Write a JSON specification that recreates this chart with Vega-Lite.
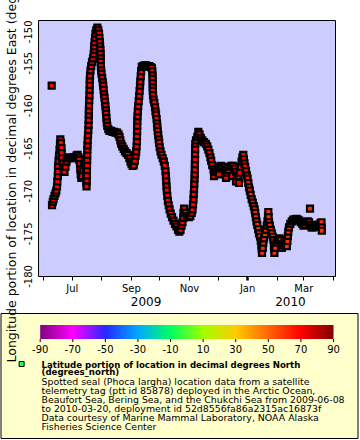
{
  "$schema": "https://vega.github.io/schema/vega-lite/v6.json",
  "autosize": {"type": "none"},
  "padding": {"left": 0.5, "top": 20, "right": 359.5, "bottom": 420},
  "background": "white",
  "spacing": -378,
  "config": {
    "font": "DejaVu Sans",
    "axis": {"labelColor": "black", "tickColor": "black", "labelFont": "DejaVu Sans", "titleFont": "DejaVu Sans", "titleColor": "black", "grid": false, "labelFlush": false, "labelOverlap": false, "labelBound": false}
  },
  "vconcat": [
    {
      "bounds": "flush",
      "spacing": 36.5,
      "hconcat": [
        {
          "width": 1, "height": 1,
          "view": {"stroke": null, "fill": null},
          "data": {"values": [{}]},
          "mark": {"type": "point", "opacity": 0}
        },
        {
          "width": 297,
          "height": 256,
          "view": {"fill": "#ccccff", "stroke": "black", "strokeWidth": 1},
          "resolve": {"scale": {"x": "independent"}, "axis": {"x": "independent"}},
          "layer": [
            {
              "data": {"values": [
{"time":"2009-06-10T00:00","lon":-157.7,"lat":70},
{"time":"2009-06-10T08:00","lon":-171.7,"lat":70},
{"time":"2009-06-11T04:00","lon":-171.3,"lat":70},
{"time":"2009-06-11T22:00","lon":-171.0,"lat":70},
{"time":"2009-06-12T23:00","lon":-170.6,"lat":70},
{"time":"2009-06-14T00:00","lon":-170.3,"lat":70},
{"time":"2009-06-14T20:00","lon":-170.0,"lat":70},
{"time":"2009-06-15T14:00","lon":-169.5,"lat":70},
{"time":"2009-06-15T21:00","lon":-168.9,"lat":70},
{"time":"2009-06-16T10:00","lon":-168.3,"lat":70},
{"time":"2009-06-16T15:00","lon":-167.7,"lat":70},
{"time":"2009-06-16T16:00","lon":-167.1,"lat":70},
{"time":"2009-06-17T04:00","lon":-166.5,"lat":70},
{"time":"2009-06-17T16:00","lon":-165.9,"lat":70},
{"time":"2009-06-18T05:00","lon":-165.2,"lat":70},
{"time":"2009-06-18T17:00","lon":-164.5,"lat":70},
{"time":"2009-06-19T01:00","lon":-164.0,"lat":70},
{"time":"2009-06-19T18:00","lon":-164.4,"lat":70},
{"time":"2009-06-20T07:00","lon":-165.0,"lat":70},
{"time":"2009-06-20T12:00","lon":-165.6,"lat":70},
{"time":"2009-06-20T20:00","lon":-166.2,"lat":70},
{"time":"2009-06-21T13:00","lon":-166.8,"lat":70},
{"time":"2009-06-22T10:00","lon":-167.3,"lat":70},
{"time":"2009-06-23T11:00","lon":-167.8,"lat":70},
{"time":"2009-06-24T12:00","lon":-167.2,"lat":70},
{"time":"2009-06-25T13:00","lon":-166.6,"lat":70},
{"time":"2009-06-26T14:00","lon":-166.2,"lat":70},
{"time":"2009-06-28T04:00","lon":-166.1,"lat":70},
{"time":"2009-06-29T18:00","lon":-166.2,"lat":70},
{"time":"2009-07-01T07:00","lon":-166.2,"lat":70},
{"time":"2009-07-02T21:00","lon":-166.1,"lat":70},
{"time":"2009-07-04T11:00","lon":-166.1,"lat":70},
{"time":"2009-07-06T01:00","lon":-165.9,"lat":70},
{"time":"2009-07-07T02:00","lon":-165.8,"lat":70},
{"time":"2009-07-08T03:00","lon":-166.1,"lat":70},
{"time":"2009-07-08T23:00","lon":-166.4,"lat":70},
{"time":"2009-07-09T17:00","lon":-166.9,"lat":70},
{"time":"2009-07-10T00:00","lon":-167.5,"lat":70},
{"time":"2009-07-10T11:00","lon":-168.1,"lat":70},
{"time":"2009-07-11T02:00","lon":-168.5,"lat":70},
{"time":"2009-07-11T19:00","lon":-168.3,"lat":70},
{"time":"2009-07-12T21:00","lon":-167.6,"lat":70},
{"time":"2009-07-13T22:00","lon":-166.9,"lat":70},
{"time":"2009-07-14T23:00","lon":-166.4,"lat":70},
{"time":"2009-07-15T17:00","lon":-167.0,"lat":70},
{"time":"2009-07-16T00:00","lon":-167.7,"lat":70},
{"time":"2009-07-16T05:00","lon":-168.4,"lat":70},
{"time":"2009-07-16T10:00","lon":-169.0,"lat":70},
{"time":"2009-07-16T13:00","lon":-169.5,"lat":70},
{"time":"2009-07-16T18:00","lon":-168.8,"lat":70},
{"time":"2009-07-16T20:00","lon":-168.2,"lat":70},
{"time":"2009-07-16T23:00","lon":-167.6,"lat":70},
{"time":"2009-07-17T01:00","lon":-167.0,"lat":70},
{"time":"2009-07-17T04:00","lon":-166.4,"lat":70},
{"time":"2009-07-17T06:00","lon":-165.8,"lat":70},
{"time":"2009-07-17T09:00","lon":-165.2,"lat":70},
{"time":"2009-07-17T14:00","lon":-164.7,"lat":70},
{"time":"2009-07-17T19:00","lon":-164.1,"lat":70},
{"time":"2009-07-18T02:00","lon":-163.5,"lat":70},
{"time":"2009-07-18T10:00","lon":-162.9,"lat":70},
{"time":"2009-07-18T15:00","lon":-162.3,"lat":70},
{"time":"2009-07-18T20:00","lon":-161.7,"lat":70},
{"time":"2009-07-18T23:00","lon":-161.1,"lat":70},
{"time":"2009-07-19T01:00","lon":-160.6,"lat":70},
{"time":"2009-07-19T04:00","lon":-160.0,"lat":70},
{"time":"2009-07-19T09:00","lon":-159.4,"lat":70},
{"time":"2009-07-19T14:00","lon":-158.8,"lat":70},
{"time":"2009-07-19T19:00","lon":-158.2,"lat":70},
{"time":"2009-07-19T21:00","lon":-157.6,"lat":70},
{"time":"2009-07-19T23:00","lon":-157.0,"lat":70},
{"time":"2009-07-20T05:00","lon":-156.5,"lat":70},
{"time":"2009-07-20T17:00","lon":-155.9,"lat":70},
{"time":"2009-07-21T11:00","lon":-155.4,"lat":70},
{"time":"2009-07-22T07:00","lon":-154.9,"lat":70},
{"time":"2009-07-23T08:00","lon":-154.5,"lat":70},
{"time":"2009-07-24T02:00","lon":-154.0,"lat":70},
{"time":"2009-07-24T10:00","lon":-153.5,"lat":70},
{"time":"2009-07-24T15:00","lon":-153.1,"lat":70},
{"time":"2009-07-25T01:00","lon":-152.6,"lat":70},
{"time":"2009-07-25T11:00","lon":-152.1,"lat":70},
{"time":"2009-07-25T23:00","lon":-151.6,"lat":70},
{"time":"2009-07-26T19:00","lon":-151.2,"lat":70},
{"time":"2009-07-27T21:00","lon":-150.9,"lat":70},
{"time":"2009-07-28T22:00","lon":-151.2,"lat":70},
{"time":"2009-07-29T15:00","lon":-151.6,"lat":70},
{"time":"2009-07-30T01:00","lon":-152.1,"lat":70},
{"time":"2009-07-30T12:00","lon":-152.6,"lat":70},
{"time":"2009-07-30T19:00","lon":-153.1,"lat":70},
{"time":"2009-07-31T03:00","lon":-153.5,"lat":70},
{"time":"2009-07-31T08:00","lon":-154.0,"lat":70},
{"time":"2009-07-31T10:00","lon":-154.5,"lat":70},
{"time":"2009-07-31T11:00","lon":-154.9,"lat":70},
{"time":"2009-07-31T13:00","lon":-155.4,"lat":70},
{"time":"2009-07-31T20:00","lon":-155.9,"lat":70},
{"time":"2009-08-01T06:00","lon":-156.3,"lat":70},
{"time":"2009-08-02T00:00","lon":-156.8,"lat":70},
{"time":"2009-08-02T15:00","lon":-157.3,"lat":70},
{"time":"2009-08-03T01:00","lon":-157.7,"lat":70},
{"time":"2009-08-03T11:00","lon":-158.2,"lat":70},
{"time":"2009-08-03T21:00","lon":-158.7,"lat":70},
{"time":"2009-08-04T10:00","lon":-159.1,"lat":70},
{"time":"2009-08-04T22:00","lon":-159.6,"lat":70},
{"time":"2009-08-05T09:00","lon":-160.1,"lat":70},
{"time":"2009-08-05T19:00","lon":-160.6,"lat":70},
{"time":"2009-08-06T02:00","lon":-161.0,"lat":70},
{"time":"2009-08-06T10:00","lon":-161.5,"lat":70},
{"time":"2009-08-06T20:00","lon":-162.0,"lat":70},
{"time":"2009-08-07T08:00","lon":-162.4,"lat":70},
{"time":"2009-08-08T10:00","lon":-162.8,"lat":70},
{"time":"2009-08-09T16:00","lon":-163.0,"lat":70},
{"time":"2009-08-11T06:00","lon":-163.0,"lat":70},
{"time":"2009-08-12T19:00","lon":-163.1,"lat":70},
{"time":"2009-08-14T09:00","lon":-163.1,"lat":70},
{"time":"2009-08-15T23:00","lon":-163.2,"lat":70},
{"time":"2009-08-17T13:00","lon":-163.2,"lat":70},
{"time":"2009-08-19T02:00","lon":-163.4,"lat":70},
{"time":"2009-08-20T04:00","lon":-163.7,"lat":70},
{"time":"2009-08-21T00:00","lon":-164.1,"lat":70},
{"time":"2009-08-21T22:00","lon":-164.5,"lat":70},
{"time":"2009-08-23T02:00","lon":-164.8,"lat":70},
{"time":"2009-08-24T13:00","lon":-165.1,"lat":70},
{"time":"2009-08-25T22:00","lon":-165.4,"lat":70},
{"time":"2009-08-27T12:00","lon":-165.6,"lat":70},
{"time":"2009-08-29T02:00","lon":-165.8,"lat":70},
{"time":"2009-08-30T11:00","lon":-166.2,"lat":70},
{"time":"2009-08-31T17:00","lon":-166.6,"lat":70},
{"time":"2009-09-01T18:00","lon":-166.9,"lat":70},
{"time":"2009-09-03T00:00","lon":-167.1,"lat":70},
{"time":"2009-09-04T04:00","lon":-167.0,"lat":70},
{"time":"2009-09-05T05:00","lon":-166.5,"lat":70},
{"time":"2009-09-06T01:00","lon":-165.9,"lat":70},
{"time":"2009-09-06T16:00","lon":-165.4,"lat":70},
{"time":"2009-09-07T02:00","lon":-164.8,"lat":70},
{"time":"2009-09-07T10:00","lon":-164.2,"lat":70},
{"time":"2009-09-07T12:00","lon":-163.6,"lat":70},
{"time":"2009-09-07T15:00","lon":-163.0,"lat":70},
{"time":"2009-09-07T17:00","lon":-162.4,"lat":70},
{"time":"2009-09-07T20:00","lon":-161.8,"lat":70},
{"time":"2009-09-08T01:00","lon":-161.3,"lat":70},
{"time":"2009-09-08T08:00","lon":-160.7,"lat":70},
{"time":"2009-09-08T18:00","lon":-160.1,"lat":70},
{"time":"2009-09-09T07:00","lon":-159.5,"lat":70},
{"time":"2009-09-09T20:00","lon":-158.9,"lat":70},
{"time":"2009-09-10T06:00","lon":-158.3,"lat":70},
{"time":"2009-09-10T16:00","lon":-157.7,"lat":70},
{"time":"2009-09-10T23:00","lon":-157.2,"lat":70},
{"time":"2009-09-11T10:00","lon":-156.6,"lat":70},
{"time":"2009-09-11T20:00","lon":-156.0,"lat":70},
{"time":"2009-09-12T13:00","lon":-155.5,"lat":70},
{"time":"2009-09-13T19:00","lon":-155.4,"lat":70},
{"time":"2009-09-15T09:00","lon":-155.3,"lat":70},
{"time":"2009-09-16T23:00","lon":-155.3,"lat":70},
{"time":"2009-09-18T13:00","lon":-155.4,"lat":70},
{"time":"2009-09-20T02:00","lon":-155.4,"lat":70},
{"time":"2009-09-21T16:00","lon":-155.5,"lat":70},
{"time":"2009-09-23T01:00","lon":-155.6,"lat":70},
{"time":"2009-09-23T14:00","lon":-156.0,"lat":70},
{"time":"2009-09-23T19:00","lon":-156.5,"lat":70},
{"time":"2009-09-23T21:00","lon":-156.9,"lat":70},
{"time":"2009-09-23T23:00","lon":-157.4,"lat":70},
{"time":"2009-09-24T00:30","lon":-157.9,"lat":70},
{"time":"2009-09-24T02:00","lon":-158.3,"lat":70},
{"time":"2009-09-24T07:00","lon":-158.8,"lat":70},
{"time":"2009-09-24T20:00","lon":-159.3,"lat":70},
{"time":"2009-09-25T16:00","lon":-159.7,"lat":70},
{"time":"2009-09-26T10:00","lon":-160.2,"lat":70},
{"time":"2009-09-26T22:00","lon":-160.7,"lat":70},
{"time":"2009-09-27T11:00","lon":-161.1,"lat":70},
{"time":"2009-09-28T02:00","lon":-161.6,"lat":70},
{"time":"2009-09-28T12:00","lon":-162.1,"lat":70},
{"time":"2009-09-28T19:00","lon":-162.5,"lat":70},
{"time":"2009-09-29T06:00","lon":-163.0,"lat":70},
{"time":"2009-09-29T18:00","lon":-163.5,"lat":70},
{"time":"2009-09-30T07:00","lon":-164.0,"lat":70},
{"time":"2009-09-30T19:00","lon":-164.4,"lat":70},
{"time":"2009-10-01T08:00","lon":-164.9,"lat":70},
{"time":"2009-10-02T04:00","lon":-165.4,"lat":70},
{"time":"2009-10-03T05:00","lon":-165.8,"lat":70},
{"time":"2009-10-04T12:00","lon":-166.2,"lat":70},
{"time":"2009-10-05T15:00","lon":-166.6,"lat":70},
{"time":"2009-10-06T16:00","lon":-167.1,"lat":70},
{"time":"2009-10-07T10:00","lon":-167.7,"lat":70},
{"time":"2009-10-07T20:00","lon":-168.3,"lat":70},
{"time":"2009-10-08T04:00","lon":-168.9,"lat":70},
{"time":"2009-10-08T11:00","lon":-169.5,"lat":70},
{"time":"2009-10-08T19:00","lon":-170.0,"lat":70},
{"time":"2009-10-09T07:00","lon":-170.6,"lat":70},
{"time":"2009-10-09T22:00","lon":-171.2,"lat":70},
{"time":"2009-10-10T18:00","lon":-171.7,"lat":70},
{"time":"2009-10-11T17:00","lon":-172.2,"lat":70},
{"time":"2009-10-12T21:00","lon":-172.7,"lat":70},
{"time":"2009-10-14T06:00","lon":-173.1,"lat":70},
{"time":"2009-10-15T19:00","lon":-173.5,"lat":70},
{"time":"2009-10-17T09:00","lon":-173.9,"lat":70},
{"time":"2009-10-18T23:00","lon":-174.2,"lat":70},
{"time":"2009-10-20T13:00","lon":-174.6,"lat":70},
{"time":"2009-10-21T22:00","lon":-174.8,"lat":70},
{"time":"2009-10-23T04:00","lon":-174.6,"lat":70},
{"time":"2009-10-24T05:00","lon":-174.1,"lat":70},
{"time":"2009-10-25T06:00","lon":-173.7,"lat":70},
{"time":"2009-10-26T02:00","lon":-173.2,"lat":70},
{"time":"2009-10-26T07:00","lon":-172.6,"lat":70},
{"time":"2009-10-26T23:00","lon":-172.1,"lat":70},
{"time":"2009-10-28T12:00","lon":-172.6,"lat":70},
{"time":"2009-10-30T02:00","lon":-173.0,"lat":70},
{"time":"2009-10-31T21:00","lon":-173.1,"lat":70},
{"time":"2009-11-02T10:00","lon":-173.0,"lat":70},
{"time":"2009-11-03T23:00","lon":-172.6,"lat":70},
{"time":"2009-11-04T19:00","lon":-172.2,"lat":70},
{"time":"2009-11-05T07:00","lon":-171.6,"lat":70},
{"time":"2009-11-05T18:00","lon":-171.0,"lat":70},
{"time":"2009-11-06T01:00","lon":-170.4,"lat":70},
{"time":"2009-11-06T09:00","lon":-169.8,"lat":70},
{"time":"2009-11-06T14:00","lon":-169.2,"lat":70},
{"time":"2009-11-06T21:00","lon":-168.6,"lat":70},
{"time":"2009-11-07T01:00","lon":-168.1,"lat":70},
{"time":"2009-11-07T04:00","lon":-167.5,"lat":70},
{"time":"2009-11-07T06:00","lon":-166.9,"lat":70},
{"time":"2009-11-07T09:00","lon":-166.3,"lat":70},
{"time":"2009-11-07T10:00","lon":-165.7,"lat":70},
{"time":"2009-11-07T11:00","lon":-165.1,"lat":70},
{"time":"2009-11-07T16:00","lon":-164.5,"lat":70},
{"time":"2009-11-08T10:00","lon":-164.1,"lat":70},
{"time":"2009-11-09T19:00","lon":-163.7,"lat":70},
{"time":"2009-11-10T20:00","lon":-163.1,"lat":70},
{"time":"2009-11-12T02:00","lon":-163.4,"lat":70},
{"time":"2009-11-13T11:00","lon":-163.8,"lat":70},
{"time":"2009-11-15T01:00","lon":-164.1,"lat":70},
{"time":"2009-11-16T19:00","lon":-164.3,"lat":70},
{"time":"2009-11-18T17:00","lon":-164.5,"lat":70},
{"time":"2009-11-20T04:00","lon":-164.8,"lat":70},
{"time":"2009-11-21T08:00","lon":-165.2,"lat":70},
{"time":"2009-11-22T12:00","lon":-165.6,"lat":70},
{"time":"2009-11-23T13:00","lon":-166.1,"lat":70},
{"time":"2009-11-24T09:00","lon":-166.5,"lat":70},
{"time":"2009-11-25T10:00","lon":-167.0,"lat":70},
{"time":"2009-11-26T19:00","lon":-167.5,"lat":70},
{"time":"2009-11-27T07:00","lon":-168.3,"lat":70},
{"time":"2009-11-28T08:00","lon":-167.8,"lat":70},
{"time":"2009-11-29T22:00","lon":-167.7,"lat":70},
{"time":"2009-12-01T12:00","lon":-167.4,"lat":70},
{"time":"2009-12-02T13:00","lon":-168.1,"lat":70},
{"time":"2009-12-03T02:00","lon":-167.2,"lat":70},
{"time":"2009-12-04T16:00","lon":-167.1,"lat":70},
{"time":"2009-12-06T05:00","lon":-167.2,"lat":70},
{"time":"2009-12-07T19:00","lon":-167.3,"lat":70},
{"time":"2009-12-09T09:00","lon":-167.6,"lat":70},
{"time":"2009-12-09T22:00","lon":-168.5,"lat":70},
{"time":"2009-12-10T23:00","lon":-167.9,"lat":70},
{"time":"2009-12-12T12:00","lon":-167.6,"lat":70},
{"time":"2009-12-14T02:00","lon":-167.2,"lat":70},
{"time":"2009-12-15T16:00","lon":-167.1,"lat":70},
{"time":"2009-12-16T05:00","lon":-168.3,"lat":70},
{"time":"2009-12-17T06:00","lon":-167.1,"lat":70},
{"time":"2009-12-18T19:00","lon":-167.4,"lat":70},
{"time":"2009-12-20T09:00","lon":-167.8,"lat":70},
{"time":"2009-12-20T10:00","lon":-168.9,"lat":70},
{"time":"2009-12-21T18:00","lon":-168.2,"lat":70},
{"time":"2009-12-23T00:00","lon":-168.3,"lat":70},
{"time":"2009-12-23T12:00","lon":-169.1,"lat":70},
{"time":"2009-12-24T09:00","lon":-167.9,"lat":70},
{"time":"2009-12-25T10:00","lon":-167.2,"lat":70},
{"time":"2009-12-26T06:00","lon":-166.6,"lat":70},
{"time":"2009-12-27T02:00","lon":-166.1,"lat":70},
{"time":"2009-12-28T01:00","lon":-165.8,"lat":70},
{"time":"2009-12-28T16:00","lon":-166.3,"lat":70},
{"time":"2009-12-29T07:00","lon":-166.8,"lat":70},
{"time":"2009-12-30T01:00","lon":-167.2,"lat":70},
{"time":"2009-12-30T21:00","lon":-167.7,"lat":70},
{"time":"2009-12-31T17:00","lon":-168.2,"lat":70},
{"time":"2010-01-01T13:00","lon":-168.6,"lat":67},
{"time":"2010-01-02T07:00","lon":-169.1,"lat":67},
{"time":"2010-01-03T01:00","lon":-169.6,"lat":66},
{"time":"2010-01-03T21:00","lon":-170.0,"lat":66},
{"time":"2010-01-04T19:00","lon":-170.5,"lat":65},
{"time":"2010-01-05T21:00","lon":-171.0,"lat":65},
{"time":"2010-01-07T00:00","lon":-171.4,"lat":64},
{"time":"2010-01-08T01:00","lon":-171.8,"lat":64},
{"time":"2010-01-08T22:00","lon":-172.2,"lat":63},
{"time":"2010-01-09T13:00","lon":-172.6,"lat":63},
{"time":"2010-01-10T04:00","lon":-173.1,"lat":62},
{"time":"2010-01-10T21:00","lon":-173.6,"lat":62},
{"time":"2010-01-11T17:00","lon":-174.0,"lat":61},
{"time":"2010-01-12T16:00","lon":-174.5,"lat":61},
{"time":"2010-01-13T12:00","lon":-175.0,"lat":61},
{"time":"2010-01-14T14:00","lon":-175.4,"lat":61},
{"time":"2010-01-15T10:00","lon":-175.9,"lat":61},
{"time":"2010-01-16T01:00","lon":-176.4,"lat":61},
{"time":"2010-01-16T08:00","lon":-176.8,"lat":61},
{"time":"2010-01-16T16:00","lon":-177.3,"lat":61},
{"time":"2010-01-17T12:00","lon":-176.7,"lat":61},
{"time":"2010-01-18T01:00","lon":-176.1,"lat":61},
{"time":"2010-01-18T18:00","lon":-175.6,"lat":61},
{"time":"2010-01-19T20:00","lon":-175.1,"lat":61},
{"time":"2010-01-20T21:00","lon":-174.6,"lat":61},
{"time":"2010-01-21T17:00","lon":-174.1,"lat":61},
{"time":"2010-01-22T11:00","lon":-173.6,"lat":61},
{"time":"2010-01-22T23:00","lon":-173.0,"lat":61},
{"time":"2010-01-23T07:00","lon":-172.5,"lat":61},
{"time":"2010-01-23T14:00","lon":-173.1,"lat":61},
{"time":"2010-01-24T00:00","lon":-173.7,"lat":61},
{"time":"2010-01-24T21:00","lon":-174.1,"lat":61},
{"time":"2010-01-25T22:00","lon":-174.6,"lat":61},
{"time":"2010-01-26T23:00","lon":-175.0,"lat":61},
{"time":"2010-01-28T00:00","lon":-175.4,"lat":61},
{"time":"2010-01-28T18:00","lon":-175.8,"lat":61},
{"time":"2010-01-29T04:00","lon":-176.4,"lat":61},
{"time":"2010-01-29T11:00","lon":-176.8,"lat":61},
{"time":"2010-01-29T16:00","lon":-177.3,"lat":61},
{"time":"2010-01-30T15:00","lon":-176.7,"lat":61},
{"time":"2010-01-31T21:00","lon":-176.1,"lat":61},
{"time":"2010-02-02T11:00","lon":-175.8,"lat":61},
{"time":"2010-02-04T01:00","lon":-175.6,"lat":61},
{"time":"2010-02-05T09:00","lon":-175.8,"lat":61},
{"time":"2010-02-06T03:00","lon":-176.3,"lat":61},
{"time":"2010-02-06T11:00","lon":-176.7,"lat":61},
{"time":"2010-02-07T17:00","lon":-176.4,"lat":61},
{"time":"2010-02-09T06:00","lon":-176.1,"lat":61},
{"time":"2010-02-10T15:00","lon":-176.3,"lat":61},
{"time":"2010-02-11T17:00","lon":-176.5,"lat":61},
{"time":"2010-02-12T08:00","lon":-175.9,"lat":61},
{"time":"2010-02-12T20:00","lon":-175.3,"lat":61},
{"time":"2010-02-13T06:00","lon":-174.8,"lat":61},
{"time":"2010-02-13T23:00","lon":-174.3,"lat":61},
{"time":"2010-02-15T09:00","lon":-173.9,"lat":61},
{"time":"2010-02-16T22:00","lon":-173.6,"lat":61},
{"time":"2010-02-18T12:00","lon":-173.4,"lat":61},
{"time":"2010-02-20T02:00","lon":-173.4,"lat":61},
{"time":"2010-02-21T16:00","lon":-173.3,"lat":61},
{"time":"2010-02-23T06:00","lon":-173.4,"lat":61},
{"time":"2010-02-24T19:00","lon":-173.5,"lat":61},
{"time":"2010-02-26T09:00","lon":-173.7,"lat":61},
{"time":"2010-02-27T23:00","lon":-173.9,"lat":61},
{"time":"2010-03-01T05:00","lon":-174.1,"lat":61},
{"time":"2010-03-02T14:00","lon":-174.0,"lat":61},
{"time":"2010-03-04T01:00","lon":-173.7,"lat":61},
{"time":"2010-03-05T15:00","lon":-173.6,"lat":61},
{"time":"2010-03-06T23:00","lon":-173.7,"lat":61},
{"time":"2010-03-08T00:30","lon":-172.1,"lat":61},
{"time":"2010-03-08T06:00","lon":-174.0,"lat":61},
{"time":"2010-03-09T14:00","lon":-174.3,"lat":61},
{"time":"2010-03-11T04:00","lon":-174.3,"lat":61},
{"time":"2010-03-12T18:00","lon":-174.2,"lat":61},
{"time":"2010-03-14T08:00","lon":-174.1,"lat":61},
{"time":"2010-03-15T22:00","lon":-174.0,"lat":61},
{"time":"2010-03-17T11:00","lon":-174.0,"lat":61},
{"time":"2010-03-19T01:00","lon":-173.8,"lat":61},
{"time":"2010-03-20T02:00","lon":-173.7,"lat":61},
{"time":"2010-03-20T07:00","lon":-174.3,"lat":61},
{"time":"2010-03-20T09:00","lon":-174.7,"lat":61}
              ]},
              "mark": {"type": "square", "size": 36, "filled": true, "stroke": "black", "strokeWidth": 2.2, "opacity": 1},
              "encoding": {
                "x": {
                  "field": "time", "type": "temporal",
                  "scale": {"domain": [{"year": 2009, "month": 5, "date": 26, "hours": 15}, {"year": 2010, "month": 4, "date": 3, "hours": 6}], "nice": false},
                  "axis": {
                    "title": null, "domain": false, "tickSize": 4,
                    "tickWidth": {"condition": {"test": "month(datum.value) == 0", "value": 2.5}, "value": 1},
                    "values": [
                      {"year": 2009, "month": 6, "date": 1}, {"year": 2009, "month": 7, "date": 1}, {"year": 2009, "month": 8, "date": 1},
                      {"year": 2009, "month": 9, "date": 1}, {"year": 2009, "month": 10, "date": 1}, {"year": 2009, "month": 11, "date": 1},
                      {"year": 2009, "month": 12, "date": 1}, {"year": 2010, "month": 1, "date": 1}, {"year": 2010, "month": 2, "date": 1},
                      {"year": 2010, "month": 3, "date": 1}, {"year": 2010, "month": 4, "date": 1}
                    ],
                    "labelExpr": "month(datum.value) % 2 == 0 ? timeFormat(datum.value, '%b') : ''",
                    "labelFontSize": 10, "labelPadding": 3.5, "labelOverlap": false
                  }
                },
                "y": {
                  "field": "lon", "type": "quantitative",
                  "scale": {"domain": [-180, -150], "nice": false, "zero": false},
                  "axis": {
                    "title": null, "domain": false, "ticks": false,
                    "values": [-180, -175, -170, -165, -160, -155, -150],
                    "labelExpr": "'-' + format(abs(datum.value), 'd')",
                    "labelAngle": 270, "labelFontSize": 10, "labelPadding": 5, "labelOverlap": false,
                    "labelAlign": {"condition": {"test": "datum.value == -150", "value": "right"}, "value": "center"}
                  }
                },
                "fill": {
                  "field": "lat", "type": "quantitative", "legend": null,
                  "scale": {
                    "interpolate": "rgb",
                    "domain": [-90, -70, -50, -30, -10, 10, 30, 50, 70, 90],
                    "range": ["#800080", "#ff00ff", "#2828ff", "#00a8ff", "#00ff60", "#a0ff00", "#ffcc00", "#ff6600", "#ff0000", "#800000"]
                  }
                }
              }
            },
            {
              "data": {"values": [{"time": "2009-09-16T12:00"}, {"time": "2010-02-15T00:00"}]},
              "mark": {"type": "point", "opacity": 0},
              "encoding": {
                "x": {
                  "field": "time", "type": "temporal",
                  "scale": {"domain": [{"year": 2009, "month": 5, "date": 26, "hours": 15}, {"year": 2010, "month": 4, "date": 3, "hours": 6}], "nice": false},
                  "axis": {
                    "title": null, "domain": false, "ticks": false, "orient": "bottom",
                    "values": [{"year": 2009, "month": 9, "date": 16, "hours": 12}, {"year": 2010, "month": 2, "date": 15}],
                    "labelExpr": "timeFormat(datum.value, '%Y')",
                    "labelFontSize": 12, "labelPadding": 20, "labelOverlap": false
                  }
                }
              }
            }
          ]
        }
      ]
    },
    {
      "width": 357,
      "height": 125,
      "view": {"fill": "#ffffcc", "stroke": "black", "strokeWidth": 1},
      "title": {
        "text": ["Latitude portion of location in decimal degrees North", "(degrees_north)"],
        "subtitle": [
          "Spotted seal (Phoca largha) location data from a satellite",
          "telemetry tag (ptt id 85878) deployed in the Arctic Ocean,",
          "Beaufort Sea, Bering Sea, and the Chukchi Sea from 2009-06-08",
          "to 2010-03-20, deployment id 52d8556fa86a2315ac16873f",
          "Data courtesy of Marine Mammal Laboratory, NOAA Alaska",
          "Fisheries Science Center"
        ],
        "orient": "bottom", "anchor": "start", "frame": "group", "offset": -77.5, "dx": 41,
        "font": "DejaVu Sans", "fontSize": 8.6, "fontWeight": "bold", "lineHeight": 7.4, "color": "black",
        "subtitleFont": "DejaVu Sans", "subtitleFontSize": 9.4, "subtitleLineHeight": 8.9, "subtitleColor": "black", "subtitlePadding": 1.5
      },
      "layer": [
        {
          "data": {"values": [{"lat_min": -90, "lat_max": 90}]},
          "mark": {"type": "rect", "fill": {"gradient": "linear", "x1": 0, "x2": 1, "y1": 0, "y2": 0, "stops": [
            {"offset": 0, "color": "#800080"}, {"offset": 0.1111, "color": "#ff00ff"}, {"offset": 0.2222, "color": "#2828ff"},
            {"offset": 0.3333, "color": "#00a8ff"}, {"offset": 0.4444, "color": "#00ff60"}, {"offset": 0.5556, "color": "#a0ff00"},
            {"offset": 0.6667, "color": "#ffcc00"}, {"offset": 0.7778, "color": "#ff6600"}, {"offset": 0.8889, "color": "#ff0000"},
            {"offset": 1, "color": "#800000"}
          ]}},
          "encoding": {
            "x": {
              "field": "lat_min", "type": "quantitative",
              "scale": {"domain": [-114.36, 104.73], "nice": false, "zero": false},
              "axis": null
            },
            "x2": {"field": "lat_max"},
            "y": {
              "datum": 12, "type": "quantitative",
              "scale": {"domain": [0, 125], "reverse": true, "nice": false, "zero": false},
              "axis": {
                "title": "Longitude portion of location in decimal degrees East (degrees_east)",
                "labels": false, "ticks": false, "domain": false,
                "titleAngle": 270, "titleAlign": "left", "titleBaseline": "alphabetic",
                "titleX": 14.5, "titleY": 49, "titleFontSize": 12.5, "titleFontWeight": "normal"
              }
            },
            "y2": {"datum": 26}
          }
        },
        {
          "data": {"values": [
            {"lat": -90, "label": "-90"}, {"lat": -70, "label": "-70"}, {"lat": -50, "label": "-50"}, {"lat": -30, "label": "-30"},
            {"lat": -10, "label": "-10"}, {"lat": 10, "label": "10"}, {"lat": 30, "label": "30"}, {"lat": 50, "label": "50"},
            {"lat": 70, "label": "70"}, {"lat": 90, "label": "90"}
          ]},
          "mark": {"type": "rule", "stroke": "black", "strokeWidth": 1},
          "encoding": {
            "x": {"field": "lat", "type": "quantitative", "axis": null},
            "y": {"datum": 26, "type": "quantitative"},
            "y2": {"datum": 29}
          }
        },
        {
          "data": {"values": [
            {"lat": -90, "label": "-90"}, {"lat": -70, "label": "-70"}, {"lat": -50, "label": "-50"}, {"lat": -30, "label": "-30"},
            {"lat": -10, "label": "-10"}, {"lat": 10, "label": "10"}, {"lat": 30, "label": "30"}, {"lat": 50, "label": "50"},
            {"lat": 70, "label": "70"}, {"lat": 90, "label": "90"}
          ]},
          "mark": {"type": "text", "baseline": "top", "align": "center", "fontSize": 10, "font": "DejaVu Sans", "fill": "black"},
          "encoding": {
            "x": {"field": "lat", "type": "quantitative", "axis": null},
            "y": {"datum": 32.3, "type": "quantitative"},
            "text": {"field": "label", "type": "nominal"}
          }
        },
        {
          "data": {"values": [{"marker": "latitude"}]},
          "mark": {"type": "square", "size": 25, "filled": true, "fill": "#33ff33", "stroke": "black", "strokeWidth": 1, "opacity": 1},
          "encoding": {
            "x": {"datum": -101.4, "type": "quantitative", "axis": null},
            "y": {"datum": 51, "type": "quantitative"}
          }
        }
      ]
    }
  ]
}
